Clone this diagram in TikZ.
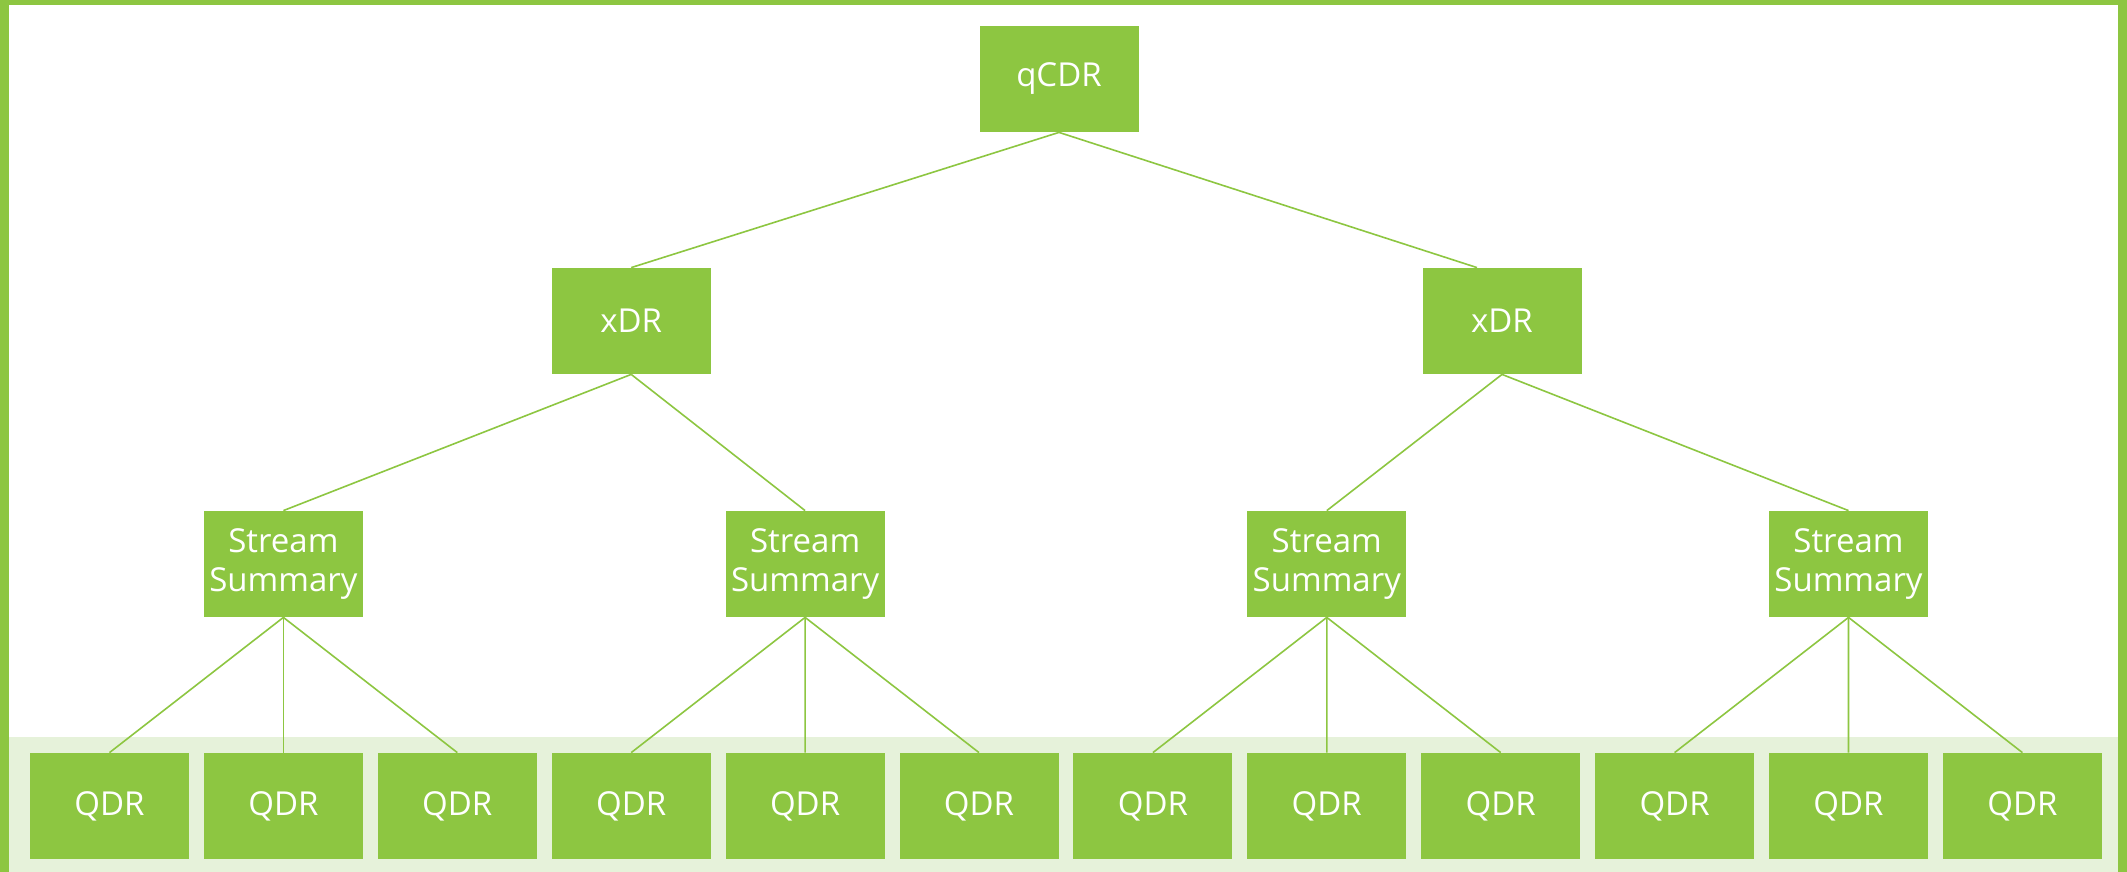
\documentclass[tikz,border=0pt]{standalone}
\usepackage{fontspec}
\setmainfont{Open Sans}
\definecolor{leaf}{RGB}{141,198,65}
\definecolor{paleleaf}{RGB}{230,242,218}
\begin{document}
\begin{tikzpicture}[x=0.5pt,y=-0.5pt,
  box/.style={fill=leaf, draw=none, minimum width=79.5pt, minimum height=53pt,
    inner sep=0pt, text=white, align=center, font=\fontsize{16.5}{19.5}\selectfont},
  link/.style={draw=leaf, line width=0.8pt}]
  % canvas and frame
  \useasboundingbox (0,0) rectangle (2127,872);
  \fill[white] (0,0) rectangle (2127,872);
  \fill[paleleaf] (9,737) rectangle (2118,872);
  \fill[leaf] (0,0) rectangle (2127,5);
  \fill[leaf] (0,0) rectangle (9,872);
  \fill[leaf] (2118,0) rectangle (2127,872);

  % root and intermediate levels
  \node[box] (root) at (1059,79) {qCDR};
  \node[box] (xl) at (631.2,321) {xDR};
  \node[box] (xr) at (1502,321) {xDR};
  \node[box] (s1) at (283.4,564) {Stream\\Summary};
  \node[box] (s2) at (805.1,564) {Stream\\Summary};
  \node[box] (s3) at (1326.8,564) {Stream\\Summary};
  \node[box] (s4) at (1848.5,564) {Stream\\Summary};

  % leaf row
  \foreach \i in {0,...,11}
    \node[box] (q\i) at ({109.5+173.9*\i},806) {QDR};

  % connectors
  \draw[link] (root.south) -- (xl.north);
  \draw[link] (root.south) -- ([xshift=-12.5pt]xr.north);
  \draw[link] (xl.south) -- (s1.north);
  \draw[link] (xl.south) -- (s2.north);
  \draw[link] (xr.south) -- (s3.north);
  \draw[link] (xr.south) -- (s4.north);
  \foreach \s/\a/\b/\c in {s1/0/1/2, s2/3/4/5, s3/6/7/8, s4/9/10/11} {
    \draw[link] (\s.south) -- (q\a.north);
    \draw[link] (\s.south) -- (q\b.north);
    \draw[link] (\s.south) -- (q\c.north);
  }
\end{tikzpicture}
\end{document}
